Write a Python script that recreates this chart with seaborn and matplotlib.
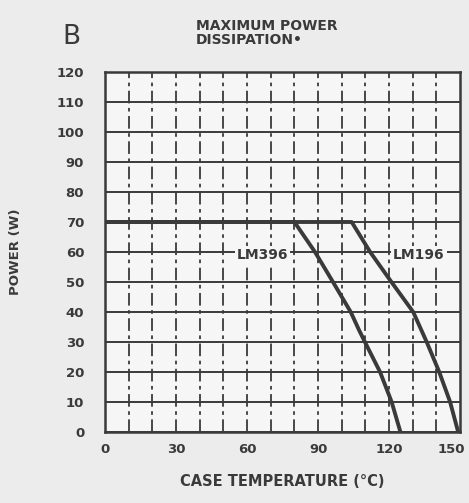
import matplotlib
matplotlib.use("Agg")
import matplotlib.pyplot as plt
import matplotlib.transforms as mtransforms
import numpy as np
import pandas as pd
import seaborn as sns

# data
lm396_temp = [0, 80, 88.7, 96.3, 103.8, 107.3, 109.8, 116.2, 121.1, 124.8]
lm396_power = [70, 70, 60, 50, 40, 34, 30, 20, 10, 0]
lm196_temp = [0, 104.2, 112, 121, 130.2, 135.9, 141.2, 145.8, 149.2]
lm196_power = [70, 70, 60, 50, 40, 30, 20, 10, 0]

x_ticks = [0, 30, 60, 90, 120, 150]
y_ticks = [0, 10, 20, 30, 40, 50, 60, 70, 80, 90, 100, 110, 120]

df = pd.concat([
    pd.DataFrame({"temp": lm396_temp, "power": lm396_power, "device": "LM396"}),
    pd.DataFrame({"temp": lm196_temp, "power": lm196_power, "device": "LM196"}),
])

sns.set_style("white")
plt.rcParams['font.family'] = ['DejaVu Sans']
plt.rcParams['font.weight'] = 'bold'

ink = '#3a3a3a'
fig = plt.figure(figsize=(4.69, 5.03), dpi=100, facecolor='#ececec')
ax = fig.add_axes([0.224, 0.141, 0.757, 0.716])
ax.set_facecolor('#f6f6f6')

# graph paper grid
for y in y_ticks:
    ax.axhline(y, color=ink, lw=1.4, zorder=1)
for x in range(10, 150, 10):
    ax.axvline(x, color=ink, lw=1.3, ls=(0, (7, 2.5, 2, 2.5)), zorder=1)

sns.lineplot(data=df, x="temp", y="power", units="device", estimator=None,
             sort=False, color=ink, lw=2.8, ax=ax, zorder=3)

# curve labels sit on the grid with blank background
ax.text(66.5, 59, "LM396", ha='center', va='center', fontsize=10, color=ink,
        fontweight='bold', zorder=4,
        bbox=dict(boxstyle='square,pad=0.15', fc='#f6f6f6', ec='none'))
ax.text(132.5, 59, "LM196", ha='center', va='center', fontsize=10, color=ink,
        fontweight='bold', zorder=4,
        bbox=dict(boxstyle='square,pad=0.15', fc='#f6f6f6', ec='none'))

ax.set_xlim(0, 150)
ax.set_ylim(0, 120)
ax.set_xticks(x_ticks)
ax.set_yticks(y_ticks)
ax.tick_params(length=0, labelsize=9.5, colors=ink)
ax.tick_params(axis='x', pad=8)
ax.tick_params(axis='y', pad=15)
for lab in ax.get_xticklabels() + ax.get_yticklabels():
    lab.set_fontweight('bold')
# last x label pulled in so it stays on the page
last = ax.get_xticklabels()[-1]
last.set_transform(last.get_transform() +
                   mtransforms.ScaledTranslation(-6 / 72, 0, fig.dpi_scale_trans))
for s in ax.spines.values():
    s.set_color(ink)
    s.set_linewidth(1.8)

ax.set_xlabel("CASE TEMPERATURE (°C)", fontsize=10.5, fontweight='bold',
              color=ink, labelpad=13)
ax.set_ylabel("POWER (W)", fontsize=9.5, fontweight='bold', color=ink,
              labelpad=25)

fig.text(0.132, 0.913, "B", fontsize=19, color=ink, fontweight='normal',
         ha='left', va='baseline')
fig.text(0.418, 0.912, "MAXIMUM POWER\nDISSIPATION•", fontsize=10,
         fontweight='bold', color=ink, ha='left', va='baseline',
         linespacing=1.0)

fig.savefig("out.png", dpi=100, facecolor=fig.get_facecolor())
